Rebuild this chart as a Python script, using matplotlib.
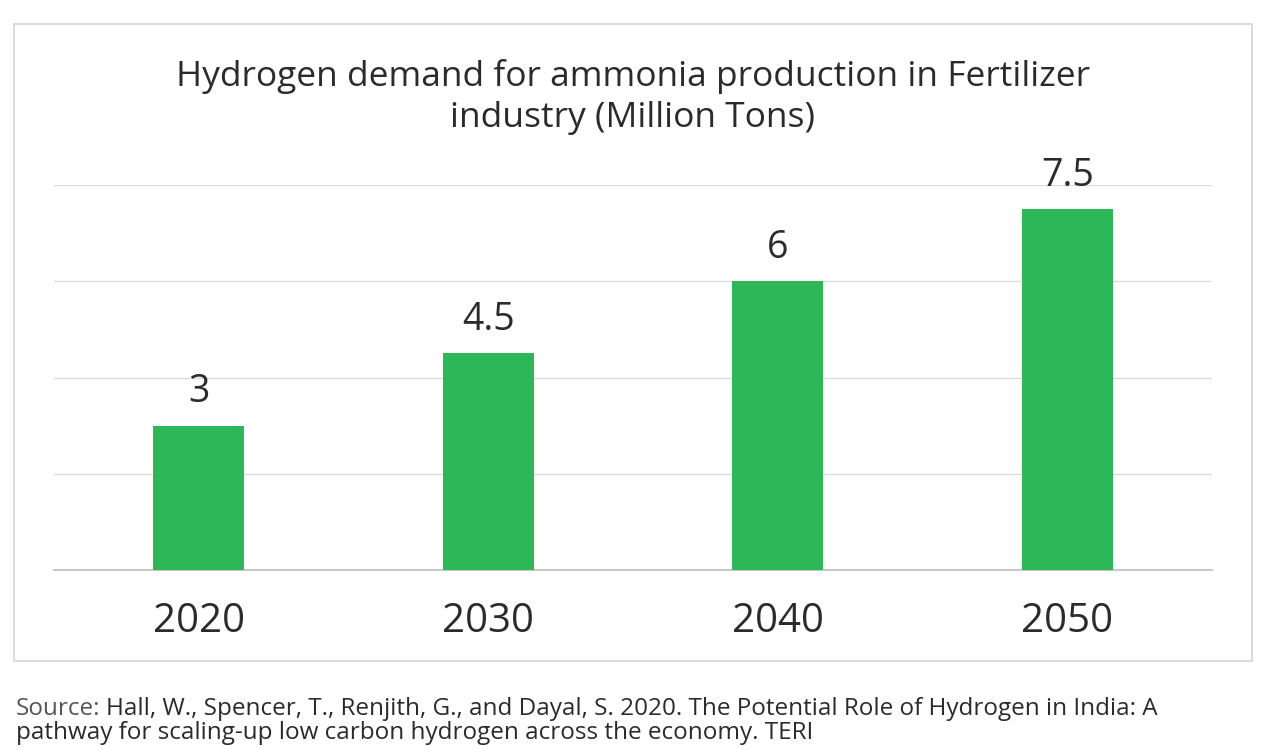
##################################################
## Hydrogen demand for ammonia production - bar chart
##################################################
import matplotlib.pyplot as plt
import matplotlib.patches as patches
from matplotlib.transforms import offset_copy

##################################################
## Data
##################################################
years = ["2020", "2030", "2040", "2050"]
demand = [3, 4.5, 6, 7.5]
value_labels = ["3", "4.5", "6", "7.5"]

title = "Hydrogen demand for ammonia production in Fertilizer\nindustry (Million Tons)"
source_1 = "Hall, W., Spencer, T., Renjith, G., and Dayal, S. 2020. The Potential Role of Hydrogen in India: A"
source_2 = "pathway for scaling-up low carbon hydrogen across the economy. TERI"

# styles
bar_col = "#2db757"
grid_col = "#dcdcdc"
text_col = "#2b2b2b"
plt.rcParams['font.family'] = ['Open Sans', 'DejaVu Sans']

##################################################
## Figure
##################################################
fig = plt.figure(figsize=(12.8, 7.5), dpi=100)

# light frame around the chart
frame = patches.Rectangle((14 / 1280, 1 - 661 / 750), 1238 / 1280, 637 / 750,
                          transform=fig.transFigure, fill=False,
                          edgecolor="#d6d6d6", linewidth=1.2)
fig.patches.append(frame)

ax = fig.add_axes([54 / 1280, 1 - 570 / 750, 1158 / 1280, 385 / 750])

x = range(len(years))
ax.bar(x, demand, width=0.314, color=bar_col, zorder=3)

for i, v in enumerate(demand):
    ax.text(i, v + 0.30, value_labels[i], ha="center", va="bottom",
            fontsize=27, color=text_col)

ax.set_xlim(-0.5, 3.5)
ax.set_ylim(0, 8)
ax.set_yticks([0, 2, 4, 6, 8])
ax.set_yticklabels([])
ax.tick_params(axis="y", length=0)
ax.grid(axis="y", color=grid_col, linewidth=1.0, zorder=0)
ax.set_xticks(list(x))
ax.set_xticklabels(years, fontsize=29, color=text_col)
ax.tick_params(axis="x", length=0, pad=23)

for s in ["top", "right", "left"]:
    ax.spines[s].set_visible(False)
ax.spines["bottom"].set_color("#c8c8c8")
ax.spines["bottom"].set_linewidth(1.5)

# title
fig.text(633 / 1280, 1 - 97 / 750, title, ha="center", va="center",
         fontsize=25.5, color=text_col, linespacing=1.3)

# source
src = fig.text(16 / 1280, 1 - 709 / 750, "Source:", ha="left", va="center",
               fontsize=17.5, color="#555555")
renderer = fig.canvas.get_renderer()
w = src.get_window_extent(renderer).width
fig.text(16 / 1280, 1 - 709 / 750, source_1, ha="left", va="center",
         fontsize=17.5, color=text_col,
         transform=offset_copy(fig.transFigure, fig=fig, x=w + 6, y=0, units="dots"))
fig.text(16 / 1280, 1 - 733 / 750, source_2, ha="left", va="center",
         fontsize=17.5, color=text_col)

fig.savefig("out.png", dpi=100)
